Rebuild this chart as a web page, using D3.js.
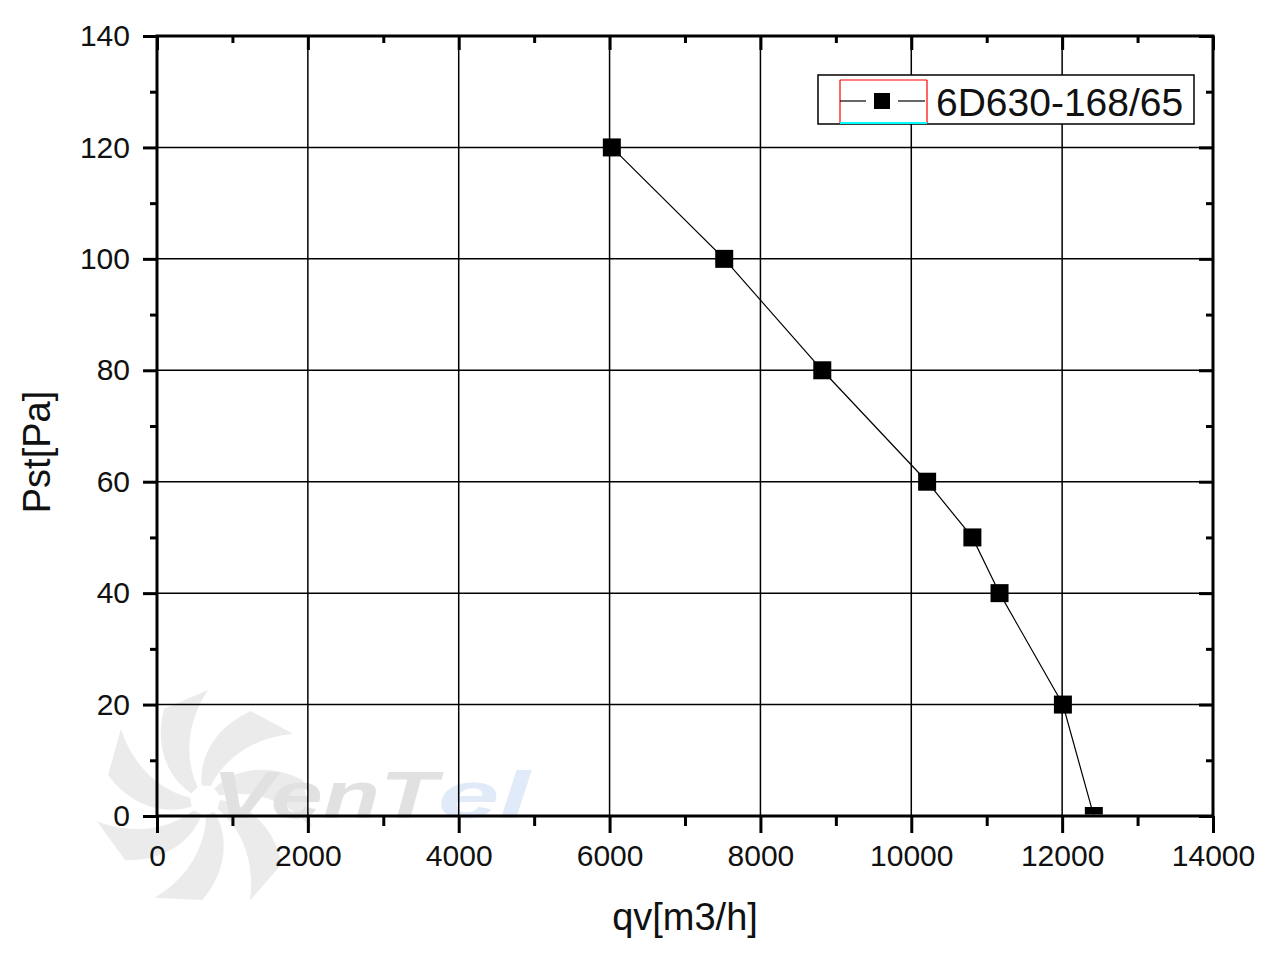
<!DOCTYPE html>
<html>
<head>
<meta charset="utf-8">
<script src="https://cdnjs.cloudflare.com/ajax/libs/d3/7.8.5/d3.min.js"></script>
<style>
  body { margin: 0; background: #fff; }
  text { font-family: "Liberation Sans", Arial, sans-serif; }
</style>
</head>
<body>
<svg id="graph" width="1275" height="959"></svg>
<script>
var w = 1275, h = 959;
var margin = {left: 157, right: 62, top: 36, bottom: 143};

// data
var flow = [6030, 7520, 8820, 10210, 10810, 11170, 12010, 12420];
var pressure = [120, 100, 80, 60, 50, 40, 20, 0];
var xTicks = [0, 2000, 4000, 6000, 8000, 10000, 12000, 14000];
var yTicks = [0, 20, 40, 60, 80, 100, 120, 140];
var seriesName = "6D630-168/65";

var svg = d3.select("#graph");

var x = d3.scaleLinear().domain([0, 14000]).range([margin.left, w - margin.right]);
var y = d3.scaleLinear().domain([0, 140]).range([h - margin.bottom, margin.top]);

// watermark (faint fan + brand)
var wm = svg.append("g").attr("opacity", 0.14);
var fc = [205, 800];
for (var i = 0; i < 7; i++) {
  var a0 = i * 2 * Math.PI / 7;
  var pts = [];
  for (var t = 0; t <= 1.0001; t += 0.1) {
    var ang = a0 + t * 0.7, r = 15 + t * 85;
    pts.push([fc[0] + r * Math.cos(ang), fc[1] + r * Math.sin(ang)]);
  }
  for (var t2 = 1; t2 >= -0.0001; t2 -= 0.1) {
    var ang2 = a0 + 0.6 + t2 * 0.55, r2 = 15 + t2 * 95;
    pts.push([fc[0] + r2 * Math.cos(ang2), fc[1] + r2 * Math.sin(ang2)]);
  }
  wm.append("path").attr("d", d3.line()(pts) + "Z").attr("fill", "#777");
}
wm.append("text").attr("x", 212).attr("y", 818)
  .attr("font-size", 66).attr("font-weight", "bold").attr("font-style", "italic")
  .attr("fill", "#333").attr("textLength", 225).attr("lengthAdjust", "spacingAndGlyphs").text("VenT");
wm.append("text").attr("x", 438).attr("y", 818)
  .attr("font-size", 66).attr("font-weight", "bold").attr("font-style", "italic")
  .attr("fill", "#2a6fd0").attr("textLength", 92).attr("lengthAdjust", "spacingAndGlyphs").text("el");

// grid
svg.append("g").selectAll("line").data(xTicks.slice(1, -1)).enter().append("line")
  .attr("x1", function(d){ return x(d); }).attr("x2", function(d){ return x(d); })
  .attr("y1", y(0)).attr("y2", y(140))
  .attr("stroke", "#000").attr("stroke-width", 1.5);
svg.append("g").selectAll("line").data(yTicks.slice(1, -1)).enter().append("line")
  .attr("y1", function(d){ return y(d); }).attr("y2", function(d){ return y(d); })
  .attr("x1", x(0)).attr("x2", x(14000))
  .attr("stroke", "#000").attr("stroke-width", 1.5);

// axes
var minorX = d3.range(1000, 14000, 2000);
var minorY = d3.range(10, 140, 20);

svg.append("g").attr("transform", "translate(0," + y(0) + ")")
  .call(d3.axisBottom(x).tickValues(xTicks).tickSize(17).tickPadding(12).tickFormat(d3.format("d")));
svg.append("g").attr("transform", "translate(0," + y(0) + ")")
  .call(d3.axisBottom(x).tickValues(minorX).tickSize(10).tickFormat(""));
svg.append("g").attr("transform", "translate(" + x(0) + ",0)")
  .call(d3.axisLeft(y).tickValues(yTicks).tickSize(14).tickPadding(13));
svg.append("g").attr("transform", "translate(" + x(0) + ",0)")
  .call(d3.axisLeft(y).tickValues(minorY).tickSize(7).tickFormat(""));
svg.append("g").attr("transform", "translate(0," + y(140) + ")")
  .call(d3.axisTop(x).tickValues(xTicks).tickSize(-14).tickFormat(""));
svg.append("g").attr("transform", "translate(0," + y(140) + ")")
  .call(d3.axisTop(x).tickValues(minorX).tickSize(-7).tickFormat(""));
svg.append("g").attr("transform", "translate(" + x(14000) + ",0)")
  .call(d3.axisRight(y).tickValues(yTicks).tickSize(-14).tickFormat(""));
svg.append("g").attr("transform", "translate(" + x(14000) + ",0)")
  .call(d3.axisRight(y).tickValues(minorY).tickSize(-7).tickFormat(""));

svg.selectAll(".domain").remove();
svg.selectAll(".tick line").attr("stroke", "#000").attr("stroke-width", 3);
svg.selectAll(".tick text").attr("font-size", 30).attr("fill", "#111")
  .style("font-family", "'Liberation Sans', Arial, sans-serif");

// frame
svg.append("rect")
  .attr("x", x(0)).attr("y", y(140))
  .attr("width", x(14000) - x(0)).attr("height", y(0) - y(140))
  .attr("fill", "none").attr("stroke", "#000").attr("stroke-width", 3);

// series
var plot = svg.append("g");
svg.append("clipPath").attr("id", "clip").append("rect")
  .attr("x", x(0)).attr("y", y(140))
  .attr("width", x(14000) - x(0)).attr("height", y(0) - y(140) - 1.5);
plot.attr("clip-path", "url(#clip)");

var pts = flow.map(function(f, i){ return [f, pressure[i]]; });
plot.append("path")
  .attr("d", d3.line().x(function(d){ return x(d[0]); }).y(function(d){ return y(d[1]); })(pts))
  .attr("fill", "none").attr("stroke", "#000").attr("stroke-width", 1.2);
plot.selectAll("rect.mk").data(pts).enter().append("rect").attr("class", "mk")
  .attr("x", function(d){ return x(d[0]) - 9; })
  .attr("y", function(d){ return y(d[1]) - 9; })
  .attr("width", 18).attr("height", 18).attr("fill", "#000");

// legend
var lg = svg.append("g");
lg.append("rect").attr("x", 818).attr("y", 75).attr("width", 376).attr("height", 49)
  .attr("fill", "#fff").attr("stroke", "#000").attr("stroke-width", 1.5);
lg.append("line").attr("x1", 840).attr("x2", 927).attr("y1", 80).attr("y2", 80).attr("stroke", "red").attr("stroke-width", 1.2);
lg.append("line").attr("x1", 840).attr("x2", 840).attr("y1", 80).attr("y2", 123).attr("stroke", "red").attr("stroke-width", 1.2);
lg.append("line").attr("x1", 927).attr("x2", 927).attr("y1", 80).attr("y2", 123).attr("stroke", "red").attr("stroke-width", 1.2);
lg.append("line").attr("x1", 840).attr("x2", 927).attr("y1", 123).attr("y2", 123).attr("stroke", "cyan").attr("stroke-width", 2);
lg.append("line").attr("x1", 840).attr("x2", 866).attr("y1", 101).attr("y2", 101).attr("stroke", "#000").attr("stroke-width", 1.2);
lg.append("line").attr("x1", 898).attr("x2", 925).attr("y1", 101).attr("y2", 101).attr("stroke", "#000").attr("stroke-width", 1.2);
lg.append("rect").attr("x", 874).attr("y", 93).attr("width", 16).attr("height", 16).attr("fill", "#000");
lg.append("text").attr("x", 936).attr("y", 116).attr("font-size", 39).attr("fill", "#111").text(seriesName);

// axis titles
svg.append("text").attr("x", 685).attr("y", 930)
  .attr("text-anchor", "middle").attr("font-size", 38).attr("fill", "#111").text("qv[m3/h]");
svg.append("text").attr("transform", "translate(50,452) rotate(-90)")
  .attr("text-anchor", "middle").attr("font-size", 38).attr("fill", "#111").text("Pst[Pa]");
</script>
</body>
</html>
